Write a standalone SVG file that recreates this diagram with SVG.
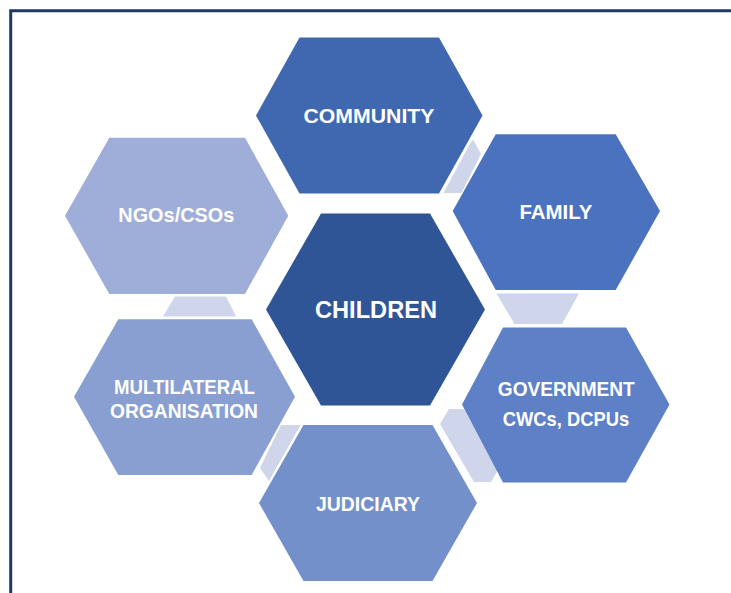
<svg xmlns="http://www.w3.org/2000/svg" width="731" height="593" viewBox="0 0 731 593">
<style>
.t{font-family:"Liberation Sans",Arial,sans-serif;font-weight:bold;fill:#FFFFFF;text-anchor:middle;font-size:21px}
.band{fill:#CFD5EA}
</style>
<rect x="0" y="0" width="731" height="593" fill="#FFFFFF"/>
<path d="M10.7,593 V10.8 H731" fill="none" stroke="#1F3864" stroke-width="3"/>
<g id="connectors">
<polygon class="band" points="469.5,144.5 473,139.5 481,154 461.5,193 443.5,193"/>
<polygon class="band" points="496.5,293.5 579,293.5 562,324 514.5,324"/>
<polygon class="band" points="440,424 449,409 464,409 498,470 491,482 474,482"/>
<polygon class="band" points="281,425 300.5,425 269,481 260,468"/>
<polygon class="band" points="175,296.5 226,296.5 236,316.5 163,316.5"/>
</g>
<g id="community">
<polygon points="256,115.5 299.5,37.5 439,37.5 482.5,115.5 439,193.5 299.5,193.5" fill="#3F68B1"/>
<text class="t" x="369" y="122.7" textLength="131" lengthAdjust="spacingAndGlyphs">COMMUNITY</text>
</g>
<g id="family">
<polygon points="452.7,211 495.7,134.3 615.7,134.3 660,211 615.7,290 495.7,290" fill="#4A72BE"/>
<text class="t" x="556" y="219" textLength="73" lengthAdjust="spacingAndGlyphs">FAMILY</text>
</g>
<g id="government">
<polygon points="462,404.5 503,327.5 626,327.5 669.5,404.5 626,482.5 503,482.5" fill="#5E80C6"/>
<text class="t" x="566.3" y="395.7" textLength="137" lengthAdjust="spacingAndGlyphs">GOVERNMENT</text>
<text class="t" x="566" y="425.5" textLength="126.5" lengthAdjust="spacingAndGlyphs">CWCs, DCPUs</text>
</g>
<g id="judiciary">
<polygon points="259,503 303.5,425 432.5,425 477,503 432.5,581 303.5,581" fill="#7490CA"/>
<text class="t" x="368" y="511" textLength="104" lengthAdjust="spacingAndGlyphs">JUDICIARY</text>
</g>
<g id="multilateral">
<polygon points="74,396.7 118.3,319.3 251.7,319.3 295,396.7 251.7,475 118.3,475" fill="#8A9FD1"/>
<text class="t" x="184.5" y="394" textLength="141" lengthAdjust="spacingAndGlyphs">MULTILATERAL</text>
<text class="t" x="184" y="417.7" textLength="148" lengthAdjust="spacingAndGlyphs">ORGANISATION</text>
</g>
<g id="ngos">
<polygon points="65,215.7 109.3,137.7 245,137.7 288.3,215.7 245,294 109.3,294" fill="#9FAED8"/>
<text class="t" x="176.3" y="222" textLength="116" lengthAdjust="spacingAndGlyphs">NGOs/CSOs</text>
</g>
<g id="children">
<polygon points="266,309.5 321,213.5 430,213.5 485,309.5 430,405.5 321,405.5" fill="#2F5597"/>
<text class="t" x="376" y="318" style="font-size:24px" textLength="122" lengthAdjust="spacingAndGlyphs">CHILDREN</text>
</g>
</svg>
